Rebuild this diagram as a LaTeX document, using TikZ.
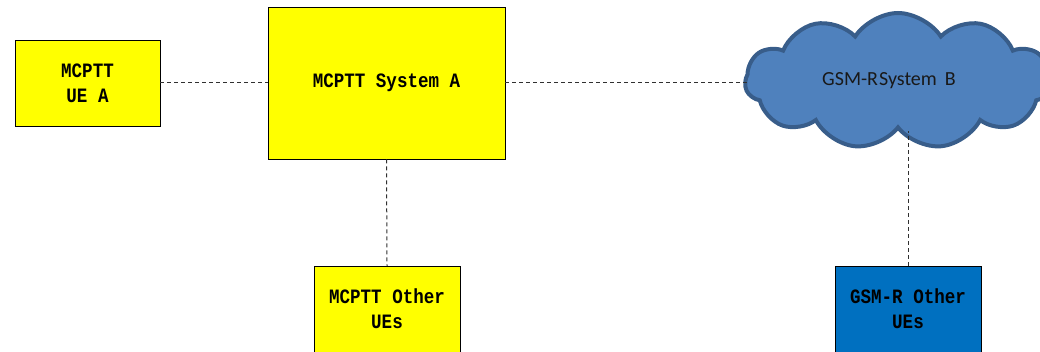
\documentclass[tikz,border=0pt]{standalone}
\usepackage{fontspec}
\setmainfont{Liberation Mono}[FakeStretch=0.86]
\newfontfamily\cloudfont{Carlito}
\usetikzlibrary{shapes.symbols}
\definecolor{boxyellow}{HTML}{FFFF00}
\definecolor{boxblue}{HTML}{0070C0}
\definecolor{cloudfill}{HTML}{4F81BD}
\definecolor{cloudedge}{HTML}{385D8A}
\definecolor{linkgray}{HTML}{303030}
\tikzset{
  boxfont/.style={font=\fontsize{20.4}{25}\selectfont\bfseries},
  unitbox/.style={draw=black, line width=0.8pt, inner sep=0pt, align=center, boxfont},
  link/.style={draw=linkgray, line width=1pt, dash pattern=on 4pt off 3pt},
}
\begin{document}
\begin{tikzpicture}[x=1pt,y=-1pt]
  \useasboundingbox (0,0) rectangle (1040,352);
  \clip (0,0) rectangle (1040,352);

  % MCPTT side
  \node[unitbox, fill=boxyellow, minimum width=145pt, minimum height=86pt]
    (uea) at (87.5,83) {MCPTT\\UE A};
  \node[unitbox, fill=boxyellow, minimum width=237pt, minimum height=152pt]
    (sysa) at (386.5,83) {MCPTT System A};
  \node[unitbox, fill=boxyellow, minimum width=146pt, minimum height=110pt, anchor=north]
    (mcues) at (387,266) {};
  \node[boxfont, align=center] (mcuestxt) at (387,308.5) {MCPTT Other\\UEs};

  % GSM-R side
  \node[cloud, cloud puffs=11, cloud puff arc=115, aspect=2.3,
        draw=cloudedge, line width=4pt, fill=cloudfill,
        minimum width=306pt, minimum height=136pt, inner sep=0pt]
    (sysb) at (898,81) {};
  \coordinate (sysbleft) at (747,83);
  \node[font=\cloudfont\fontsize{20}{22}\selectfont, text=black!90]
    (sysbtxt) at (889,81) {GSM-R\hspace{1pt}System\hspace{8pt}B};
  \node[unitbox, fill=boxblue, minimum width=146pt, minimum height=110pt, anchor=north]
    (gues) at (908,266) {};
  \node[boxfont, align=center] (guestxt) at (908,308.5) {GSM-R Other\\UEs};

  % connections
  \draw[link] (uea.east) -- (sysa.west);
  \draw[link] (sysa.east) -- (sysbleft);
  \draw[link] (sysa.south) -- (mcues.north);
  \draw[link] (gues.north) -- (gues.north |- sysb.south);
\end{tikzpicture}
\end{document}
